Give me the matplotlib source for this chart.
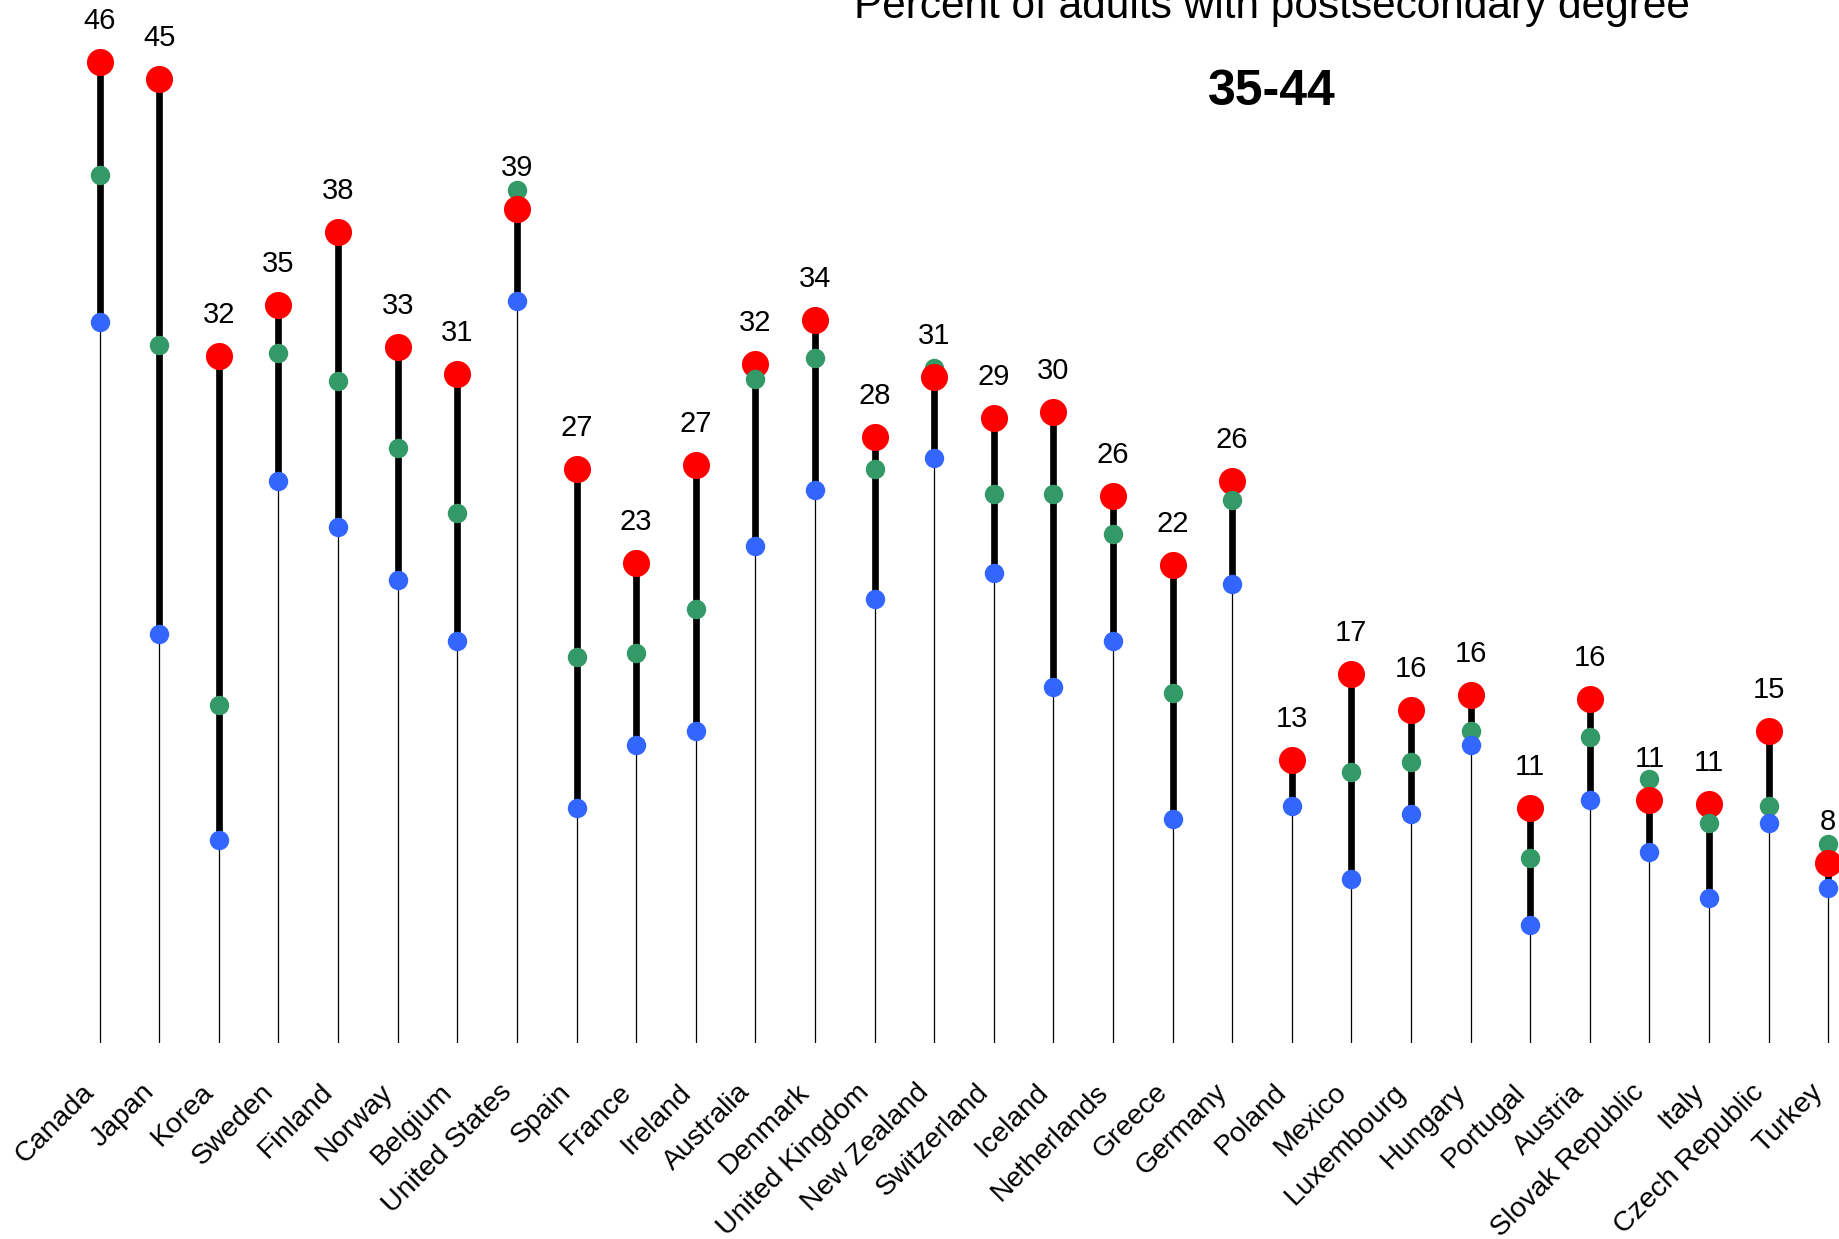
import numpy as np
import matplotlib.pyplot as plt

plt.rcParams['font.family'] = ['Liberation Sans', 'DejaVu Sans']

# data
countries = ['Canada', 'Japan', 'Korea', 'Sweden', 'Finland', 'Norway', 'Belgium',
             'United States', 'Spain', 'France', 'Ireland', 'Australia', 'Denmark',
             'United Kingdom', 'New Zealand', 'Switzerland', 'Iceland', 'Netherlands',
             'Greece', 'Germany', 'Poland', 'Mexico', 'Luxembourg', 'Hungary',
             'Portugal', 'Austria', 'Slovak Republic', 'Italy', 'Czech Republic', 'Turkey']
red = [46.0, 45.2, 32.0, 34.4, 37.9, 32.4, 31.1, 39.0, 26.6, 22.1, 26.8, 31.6, 33.7,
       28.1, 31.0, 29.0, 29.3, 25.3, 22.0, 26.0, 12.7, 16.8, 15.1, 15.8, 10.4, 15.6,
       10.8, 10.6, 14.1, 7.8]
green = [40.6, 32.5, 15.3, 32.1, 30.8, 27.6, 24.5, 39.9, 17.6, 17.8, 19.9, 30.9, 31.9,
         26.6, 31.4, 25.4, 25.4, 23.5, 15.9, 25.1, 12.8, 12.1, 12.6, 14.1, 8.0, 13.8,
         11.8, 9.7, 10.5, 8.7]
blue = [33.6, 18.7, 8.9, 26.0, 23.8, 21.3, 18.4, 34.6, 10.4, 13.4, 14.1, 22.9, 25.6,
        20.4, 27.1, 21.6, 16.2, 18.4, 9.9, 21.1, 10.5, 7.0, 10.1, 13.4, 4.8, 10.8,
        8.3, 6.1, 9.7, 6.6]
labels = [46, 45, 32, 35, 38, 33, 31, 39, 27, 23, 27, 32, 34, 28, 31, 29, 30, 26, 22, 26,
          13, 17, 16, 16, 11, 16, 11, 11, 15, 8]

RED, GREEN, BLUE = '#ff0000', '#339966', '#3366ff'

fig = plt.figure(figsize=(18.39, 12.39), dpi=100)
ax = fig.add_axes([0, 0.1582, 1, 0.8418])

x = np.arange(len(countries))
ybot = -0.81

# thin stem from the bottom to the blue dot, thick bar blue -> red
ax.vlines(x, ybot, blue, color='black', linewidth=0.9, zorder=1)
ax.vlines(x, blue, red, color='black', linewidth=4.8, zorder=2)

for i in x:
    dots = [(red[i], RED, 19.5), (green[i], GREEN, 14), (blue[i], BLUE, 14)]
    dots.sort(key=lambda d: -d[0])  # lower dots end up on top
    for k, (v, c, s) in enumerate(dots):
        ax.plot(i, v, 'o', color=c, markersize=s, markeredgewidth=0, zorder=3 + k)
    ax.annotate(str(labels[i]), (i, red[i]), xytext=(0, 29.5), textcoords='offset points',
                ha='center', va='center', fontsize=21)

ax.set_xlim(-1.672, 29.18)
ax.set_ylim(ybot, 48.97)
ax.set_xticks(x)
ax.set_xticklabels(countries, rotation=45, ha='right', fontsize=20.5)
ax.tick_params(axis='x', length=0, pad=26)
ax.set_yticks([])
for sp in ax.spines.values():
    sp.set_visible(False)
ax.patch.set_alpha(0)

fig.text(0.6917, 0.9855, 'Percent of adults with postsecondary degree', ha='center',
         va='baseline', fontsize=30.5)
fig.text(0.6917, 0.926, '35-44', ha='center', va='center', fontsize=36, fontweight='bold')

fig.savefig('out.png', dpi=100, facecolor='white')
